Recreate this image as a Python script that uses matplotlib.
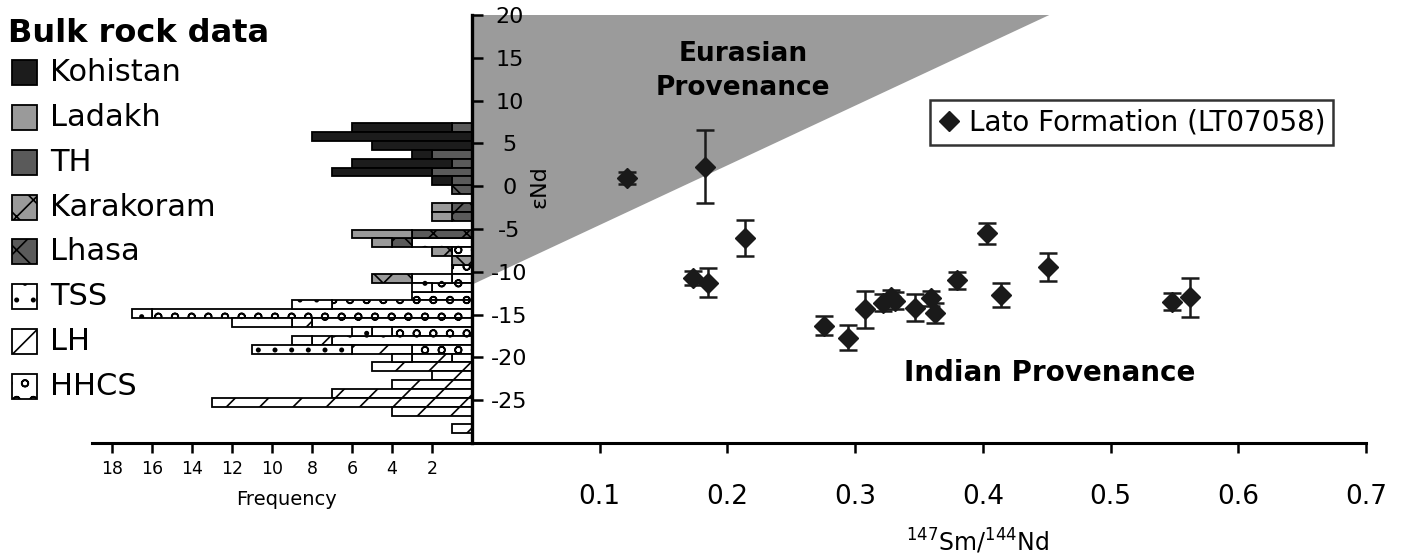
import numpy as np
import matplotlib
matplotlib.use('Agg')
import matplotlib.pyplot as plt
from matplotlib.patches import Polygon, Rectangle
from matplotlib.lines import Line2D

plt.rcParams['font.family'] = 'DejaVu Sans'
plt.rcParams['hatch.linewidth'] = 1.2

# bulk rock eNd histogram, 1 unit bins (top bin first)
bins = np.arange(7, -28, -1)
kohistan  = [5, 8, 5, 1, 5, 5, 1, 0, 0, 0, 0, 0, 0, 0, 0, 0, 0, 0, 0, 0, 0, 0, 0, 0, 0, 0, 0, 0, 0, 0, 0, 0, 0, 0, 0]
ladakh    = [0, 0, 0, 0, 0, 0, 0, 0, 0, 1, 1, 0, 3, 1, 0, 0, 0, 0, 0, 0, 0, 0, 0, 0, 0, 0, 0, 0, 0, 0, 0, 0, 0, 0, 0]
th        = [1, 0, 0, 2, 1, 2, 1, 0, 0, 0, 0, 0, 0, 0, 0, 0, 0, 0, 0, 0, 0, 0, 0, 0, 0, 0, 0, 0, 0, 0, 0, 0, 0, 0, 0]
karakoram = [0, 0, 0, 0, 0, 0, 0, 0, 0, 0, 0, 0, 0, 0, 1, 1, 0, 2, 0, 0, 0, 0, 0, 0, 0, 0, 0, 0, 0, 0, 0, 0, 0, 0, 0]
lhasa     = [0, 0, 0, 0, 0, 0, 0, 1, 0, 1, 1, 0, 3, 1, 0, 0, 0, 0, 0, 0, 0, 0, 0, 0, 0, 0, 0, 0, 0, 0, 0, 0, 0, 0, 0]
tss       = [0, 0, 0, 0, 0, 0, 0, 0, 0, 0, 0, 0, 0, 0, 0, 0, 0, 2, 1, 0, 2, 1, 3, 1, 1, 5, 1, 0, 0, 0, 0, 0, 0, 0, 0]
lh        = [0, 0, 0, 0, 0, 0, 0, 0, 0, 0, 0, 0, 0, 0, 0, 0, 0, 0, 0, 0, 0, 0, 1, 1, 1, 3, 2, 5, 2, 4, 7, 13, 4, 0, 1]
hhcs      = [0, 0, 0, 0, 0, 0, 0, 0, 0, 0, 0, 0, 0, 3, 1, 0, 1, 1, 2, 3, 7, 16, 8, 4, 7, 3, 1, 0, 0, 0, 0, 0, 0, 0, 0]

sources = ['Kohistan', 'Ladakh', 'TH', 'Karakoram', 'Lhasa', 'TSS', 'LH', 'HHCS']
counts = [kohistan, ladakh, th, karakoram, lhasa, tss, lh, hhcs]
colors = ['#1c1c1c', '#9a9a9a', '#5a5a5a', '#9a9a9a', '#5a5a5a', 'white', 'white', 'white']
hatches = ['', '', '', 'x', 'x', '.', '/', 'o']

# Lato Formation (LT07058) detrital data
sm_nd = [0.121, 0.1825, 0.214, 0.173, 0.185, 0.2755, 0.2945, 0.308, 0.322, 0.328,
         0.331, 0.3466, 0.3593, 0.3629, 0.380, 0.4035, 0.4144, 0.4509, 0.5484, 0.5619]
eps_nd = [1.0, 2.3, -6.1, -10.7, -11.3, -16.3, -17.7, -14.4, -13.6, -13.0,
          -13.4, -14.2, -13.1, -14.8, -11.0, -5.5, -12.7, -9.4, -13.5, -13.0]
eps_err = [0.7, 4.3, 2.1, 0.8, 1.7, 1.1, 1.45, 2.2, 1.0, 0.9,
           1.0, 1.6, 0.9, 1.15, 1.0, 1.2, 1.45, 1.65, 1.0, 2.25]

# eurasian field boundary
field_x = [0, 0.452, 0]
field_y = [20, 20, -11.5]

W, H = 1408, 557
fig = plt.figure(figsize=(W / 100, H / 100), dpi=100)

def fx(px):
    return px / W

def fy(py):
    return 1 - py / H

# ---- histogram ----
hax = fig.add_axes([fx(92), fy(443), (472 - 92) / W, 428 / H])
left = np.zeros(len(bins))
for i in reversed(range(len(sources))):
    c = np.array(counts[i])
    m = c > 0
    hax.barh(bins[m], c[m], left=left[m], height=1, color=colors[i], hatch=hatches[i],
             edgecolor='black', linewidth=1.3)
    left = left + c
hax.set_xlim(19, 0)
hax.set_ylim(-28.6, 19.73)
for s in ['left', 'top', 'right']:
    hax.spines[s].set_visible(False)
hax.spines['bottom'].set_linewidth(2.2)
hax.set_yticks([])
hax.set_xticks(range(2, 19, 2))
hax.tick_params(axis='x', direction='out', length=7.5, width=1.8, pad=5, labelsize=12.5)
hax.patch.set_visible(False)
hax.text(9.3, -0.133, 'Frequency', transform=hax.get_xaxis_transform(),
         ha='center', va='center', fontsize=14)

# ---- scatter ----
ax = fig.add_axes([fx(472), fy(443), 894 / W, 428 / H])
ax.add_patch(Polygon(np.column_stack([field_x, field_y]), closed=True,
                     facecolor='#9b9b9b', edgecolor='none', zorder=0))
ax.errorbar(sm_nd, eps_nd, yerr=eps_err, fmt='D', color='#1a1a1a', ms=10,
            capsize=6.5, elinewidth=1.8, capthick=1.8, zorder=3)
ax.set_xlim(0, 0.7)
ax.set_ylim(-30, 20)
for s in ['top', 'right']:
    ax.spines[s].set_visible(False)
ax.spines['left'].set_linewidth(2.4)
ax.spines['bottom'].set_linewidth(2.2)
ax.patch.set_visible(False)

xt = [0.1, 0.2, 0.3, 0.4, 0.5, 0.6, 0.7]
ax.set_xticks(xt)
ax.set_xticklabels([f'{v:.1f}' for v in xt])
ax.tick_params(axis='x', direction='out', length=7.5, width=1.8, pad=22, labelsize=19)
yt = list(range(-25, 21, 5))
ax.set_yticks(yt)
ax.set_yticklabels([str(v) for v in yt])
ax.tick_params(axis='y', direction='in', length=8, width=1.8, pad=-27, labelsize=16)
for lab in ax.get_yticklabels():
    lab.set_horizontalalignment('center')

ax.text(0.053, 0, 'εNd', rotation=90, ha='center', va='center', fontsize=16)
ax.text(0.396, -0.231, r'$^{147}$Sm/$^{144}$Nd', transform=ax.get_xaxis_transform(),
        ha='center', va='center', fontsize=17)
ax.text(0.212, 13.4, 'Eurasian\nProvenance', ha='center', va='center', fontsize=19,
        fontweight='bold', linespacing=1.4)
ax.text(0.452, -21.8, 'Indian Provenance', ha='center', va='center', fontsize=20,
        fontweight='bold')

handle = Line2D([], [], marker='D', color='#1a1a1a', ls='none', ms=10)
leg = ax.legend([handle], ['Lato Formation (LT07058)'], loc='upper left',
                bbox_to_anchor=(0.512, 0.801), borderaxespad=0, fontsize=20,
                frameon=True, fancybox=False, handlelength=0.8, handletextpad=0.3,
                borderpad=0.3)
leg.get_frame().set_edgecolor('black')
leg.get_frame().set_linewidth(1.8)

# ---- left legend ----
fig.text(fx(8), fy(34), 'Bulk rock data', ha='left', va='center', fontsize=23,
         fontweight='bold')
for i, name in enumerate(sources):
    cy = 72.5 + 44.86 * i
    fig.add_artist(Rectangle((fx(12), fy(cy + 12.5)), 25 / W, 25 / H,
                             transform=fig.transFigure, facecolor=colors[i],
                             hatch=hatches[i], edgecolor='black', linewidth=1.3))
    fig.text(fx(50), fy(cy), name, ha='left', va='center', fontsize=22)

fig.savefig('out.png', dpi=100)
